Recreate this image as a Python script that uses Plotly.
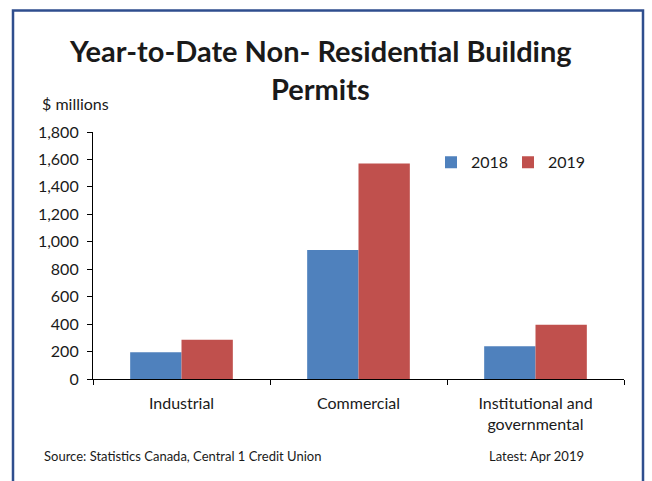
import plotly.graph_objects as go

categories = ["Industrial", "Commercial", "Institutional and<br>governmental"]
series_names = ["2018", "2019"]
values_2018 = [195, 940, 238]
values_2019 = [286, 1570, 395]
y_ticks = [0, 200, 400, 600, 800, 1000, 1200, 1400, 1600, 1800]

colors = ["#4F81BD", "#C0504D"]
FONT = "Lato"

W, H = 652, 481
L, R, T, B = 93, 624, 131.7, 379.3


def px(x):
    return (x - L) / (R - L)


def py(y):
    return (B - y) / (B - T)


fig = go.Figure()
for name, vals, c in zip(series_names, [values_2018, values_2019], colors):
    fig.add_trace(go.Bar(x=categories, y=vals, name=name, marker=dict(color=c, line=dict(width=0))))

fig.update_layout(
    width=W, height=H,
    margin=dict(l=L, r=W - R, t=T, b=H - B, pad=0, autoexpand=False),
    paper_bgcolor="white", plot_bgcolor="white",
    barmode="group", bargap=0.42, bargroupgap=0,
    font=dict(family=FONT, size=16, color="#1a1a1a"),
    showlegend=True,
    legend=dict(orientation="h", x=px(431), y=py(162), xanchor="left", yanchor="middle",
                entrywidth=32, entrywidthmode="pixels", font=dict(size=16, family=FONT),
                bgcolor="rgba(0,0,0,0)", traceorder="normal"),
    xaxis=dict(showline=True, linecolor="black", linewidth=1.2, ticks="outside", ticklen=5,
               tickcolor="black", tickson="boundaries", showgrid=False, tickfont=dict(size=16),
               ticklabelstandoff=10, fixedrange=True),
    yaxis=dict(range=[0, 1800], tickvals=y_ticks, tickformat=",", showline=True, linecolor="black",
               linewidth=1.2, ticks="outside", ticklen=5, tickcolor="black", showgrid=False,
               zeroline=False, tickfont=dict(size=16), ticklabelstandoff=5, fixedrange=True),
)

fig.add_shape(type="rect", xref="paper", yref="paper",
              x0=px(13), x1=px(643), y0=py(500), y1=py(10),
              line=dict(color="#2F4E8E", width=2.5), fillcolor="rgba(0,0,0,0)", layer="above")

fig.add_annotation(xref="paper", yref="paper", x=px(320), y=py(50), xanchor="center", yanchor="middle",
                   text="<b>Year-to-Date Non- Residential Building</b>", showarrow=False,
                   font=dict(size=29, family=FONT, color="#1a1a1a"))
fig.add_annotation(xref="paper", yref="paper", x=px(320), y=py(88), xanchor="center", yanchor="middle",
                   text="<b>Permits</b>", showarrow=False,
                   font=dict(size=29, family=FONT, color="#1a1a1a"))
fig.add_annotation(xref="paper", yref="paper", x=px(40), y=py(103), xanchor="left", yanchor="middle",
                   text="$ millions", showarrow=False, font=dict(size=16, family=FONT))
fig.add_annotation(xref="paper", yref="paper", x=px(42), y=py(456), xanchor="left", yanchor="middle",
                   text="Source: Statistics Canada, Central 1 Credit Union", showarrow=False,
                   font=dict(size=13, family=FONT))
fig.add_annotation(xref="paper", yref="paper", x=px(487), y=py(456), xanchor="left", yanchor="middle",
                   text="Latest: Apr 2019", showarrow=False, font=dict(size=13, family=FONT))

fig.write_html("out.html", config={"displayModeBar": False})
